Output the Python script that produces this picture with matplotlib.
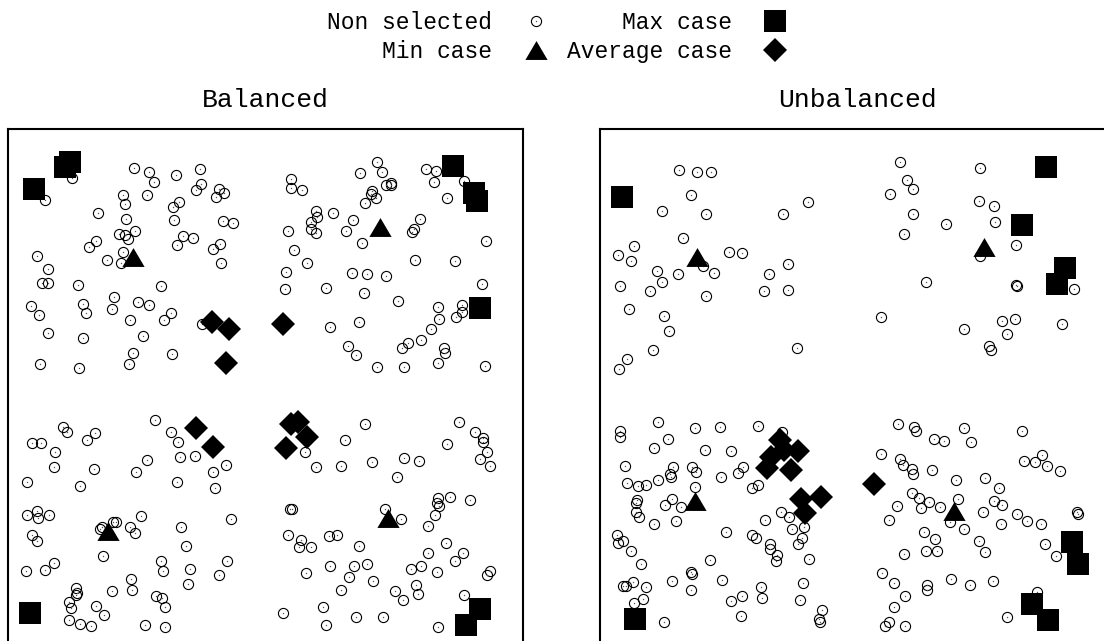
import matplotlib
matplotlib.use("Agg")
import matplotlib.pyplot as plt
import numpy as np

plt.rcParams['font.family'] = ['Liberation Mono', 'DejaVu Sans Mono']

# field is a square of side FIELD, x to the right, y upwards
FIELD = 515

# -> Balanced scenario
bal_other = [
    (64, 466), (37, 444), (126, 476), (141, 472), (146, 462), (168, 469), (192, 475), (193, 460),
    (188, 454), (211, 455), (216, 451), (208, 447), (115, 449), (117, 440), (139, 449), (171, 442),
    (165, 437), (90, 431), (118, 425), (166, 424), (215, 423), (225, 421), (127, 413), (111, 410),
    (117, 409), (120, 405), (88, 403), (81, 397), (175, 408), (185, 406), (169, 399), (212, 400),
    (205, 395), (115, 392), (99, 384), (113, 381), (213, 381), (29, 388), (40, 375), (34, 361),
    (40, 361), (70, 359), (153, 358), (23, 338), (31, 329), (75, 340), (78, 331), (106, 347),
    (104, 335), (130, 342), (141, 339), (122, 324), (163, 331), (156, 324), (194, 320), (40, 311),
    (75, 306), (135, 308), (125, 291), (121, 280), (164, 290), (32, 280), (71, 276),
    (369, 482), (352, 471), (374, 472), (283, 465), (283, 456), (294, 454), (378, 459), (383, 461),
    (383, 459), (364, 453), (363, 450), (368, 446), (357, 441), (418, 475), (428, 473), (426, 462),
    (456, 463), (439, 446), (308, 433), (309, 427), (303, 422), (303, 415), (308, 411), (325, 431),
    (345, 424), (338, 413), (280, 413), (354, 401), (412, 425), (406, 415), (404, 412), (478, 403),
    (286, 394), (299, 381), (407, 384), (447, 383), (278, 372), (277, 355), (318, 356), (344, 371),
    (359, 370), (378, 368), (356, 351), (390, 343), (474, 360), (430, 337), (431, 325), (454, 339),
    (454, 332), (448, 327), (423, 315), (413, 304), (400, 301), (394, 296), (322, 317), (351, 322),
    (340, 298), (348, 289), (436, 296), (437, 291), (430, 281), (369, 277), (396, 277), (477, 278),
    (55, 217), (59, 212), (24, 201), (33, 201), (47, 192), (46, 177), (79, 204), (87, 211),
    (86, 175), (19, 162), (72, 158), (147, 224), (163, 212), (170, 202), (172, 187), (187, 188),
    (139, 184), (128, 172), (169, 162), (218, 179), (205, 172), (207, 156), (19, 129), (29, 133),
    (30, 126), (41, 129), (24, 109), (29, 103), (92, 115), (94, 117), (105, 122), (108, 122),
    (122, 117), (127, 111), (133, 128), (173, 117), (223, 125), (178, 98), (95, 88), (18, 73),
    (37, 74), (46, 81), (153, 83), (155, 73), (182, 75), (219, 83), (211, 69), (180, 60),
    (123, 65), (124, 54), (104, 53), (68, 56), (69, 51), (68, 49), (61, 42), (63, 36),
    (88, 38), (96, 29), (148, 48), (154, 46), (157, 37), (61, 24), (72, 20), (83, 18),
    (137, 19), (157, 17),
    (357, 220), (337, 204), (297, 192), (308, 177), (333, 178), (364, 182), (396, 186), (411, 183),
    (389, 167), (451, 222), (467, 212), (475, 206), (475, 202), (439, 200), (479, 192), (472, 185),
    (482, 178), (282, 135), (284, 135), (377, 135), (393, 125), (430, 146), (429, 141), (431, 138),
    (442, 147), (462, 144), (427, 129), (420, 118), (280, 109), (293, 104), (291, 97), (303, 97),
    (321, 108), (329, 109), (351, 98), (438, 101), (420, 91), (455, 91), (447, 83), (298, 71),
    (322, 78), (346, 78), (359, 80), (341, 67), (365, 63), (333, 54), (403, 75), (413, 78),
    (429, 72), (482, 73), (479, 69), (408, 59), (410, 50), (387, 53), (395, 44), (456, 49),
    (315, 37), (275, 31), (318, 19), (348, 27), (375, 27), (430, 17),
]
bal_max = [(62, 482), (57, 477), (26, 455), (445, 478), (466, 451), (469, 443),
           (472, 336), (22, 31), (472, 35), (458, 19)]
bal_min = [(125, 387), (372, 417), (100, 113), (380, 126)]
bal_avg = [(204, 322), (221, 315), (218, 281), (275, 320), (188, 216), (205, 197),
           (290, 222), (283, 220), (299, 207), (278, 196)]

# -> Unbalanced scenario
unb_other = [
    (79, 474), (97, 472), (111, 472), (91, 449), (62, 433), (106, 430), (183, 430), (208, 442),
    (83, 406), (34, 398), (18, 389), (31, 383), (129, 392), (142, 391), (103, 378), (114, 371),
    (78, 370), (57, 373), (62, 362), (50, 353), (20, 358), (188, 380), (169, 370), (164, 353),
    (188, 354), (106, 348), (29, 335), (64, 328), (69, 313), (53, 294), (27, 285), (19, 275),
    (197, 296),
    (300, 482), (307, 464), (313, 455), (290, 450), (380, 476), (379, 443), (394, 438), (395, 422),
    (313, 430), (346, 420), (304, 410), (416, 399), (380, 388), (326, 362), (416, 359), (417, 358),
    (474, 355), (281, 327), (364, 315), (402, 323), (415, 325), (407, 310), (462, 320), (389, 298),
    (391, 294),
    (20, 213), (20, 207), (58, 222), (68, 205), (54, 196), (95, 216), (120, 217), (158, 218),
    (182, 212), (105, 194), (131, 193), (25, 178), (73, 177), (70, 170), (71, 167), (92, 177),
    (96, 172), (121, 167), (138, 171), (143, 177), (27, 161), (38, 158), (46, 159), (58, 164),
    (95, 157), (152, 156), (158, 159), (37, 144), (36, 141), (72, 145), (65, 139), (81, 137),
    (36, 132), (39, 127), (54, 120), (76, 123), (165, 124), (181, 132), (189, 127), (192, 115),
    (204, 117), (202, 106), (198, 100), (126, 112), (152, 109), (156, 106), (170, 100), (170, 95),
    (177, 89), (176, 83), (209, 85), (17, 109), (18, 101), (23, 103), (31, 93), (41, 80),
    (110, 84), (91, 72), (92, 70), (91, 54), (72, 63), (122, 64), (23, 58), (26, 58),
    (33, 62), (46, 57), (43, 45), (34, 41), (161, 57), (162, 46), (142, 48), (131, 43),
    (141, 28), (203, 61), (200, 44), (222, 34), (219, 25), (220, 22), (64, 22),
    (298, 220), (314, 217), (316, 213), (334, 205), (344, 203), (364, 216), (371, 202), (422, 213),
    (281, 190), (300, 185), (303, 179), (312, 175), (313, 170), (332, 174), (356, 164), (385, 166),
    (399, 156), (424, 183), (435, 182), (442, 189), (447, 178), (460, 173), (312, 151), (319, 146),
    (329, 142), (321, 136), (340, 137), (358, 145), (394, 143), (402, 139), (383, 132), (297, 138),
    (289, 124), (350, 122), (364, 115), (401, 120), (417, 130), (427, 123), (441, 120), (477, 132),
    (478, 130), (324, 112), (335, 105), (326, 93), (337, 93), (379, 103), (385, 92), (304, 90),
    (445, 100), (456, 88), (282, 71), (294, 61), (305, 48), (327, 59), (327, 54), (351, 65),
    (370, 59), (393, 63), (437, 52), (294, 37), (289, 22), (285, 18), (305, 18), (407, 27),
]
unb_max = [(22, 447), (446, 477), (422, 419), (465, 376), (457, 360), (35, 25),
           (472, 102), (478, 80), (432, 40), (448, 24)]
unb_min = [(97, 387), (384, 397), (95, 143), (354, 133)]
unb_avg = [(180, 204), (184, 194), (198, 193), (171, 187), (167, 176), (191, 174),
           (201, 145), (221, 147), (205, 131), (274, 160)]

panels = [
    ('Balanced', bal_other, bal_max, bal_min, bal_avg),
    ('Unbalanced', unb_other, unb_max, unb_min, unb_avg),
]

W, H = 1104, 641
fig = plt.figure(figsize=(W / 100, H / 100), dpi=100)

# slightly flattened triangle, like the original
tri_marker = [(-1, -0.85), (1, -0.85), (0, 0.85)]

# the figure crops the right and bottom of the frames, as in the original
lefts = [8, 600]
handles = None
for left, (title, other, mx, mn, avg) in zip(lefts, panels):
    ax = fig.add_axes([left / W, -3 / H, FIELD / W, FIELD / H])
    other = np.array(other)
    mx = np.array(mx)
    mn = np.array(mn)
    avg = np.array(avg)

    ring, = ax.plot(other[:, 0], other[:, 1], ls='none', marker='o', ms=7.3,
                    mfc='none', mec='black', mew=0.8, zorder=2)
    dot, = ax.plot(other[:, 0], other[:, 1], ls='none', marker='o', ms=1.0,
                   mfc='#555555', mec='none', zorder=2)
    sq, = ax.plot(mx[:, 0], mx[:, 1], ls='none', marker='s', ms=15.3,
                  color='black', mew=0, zorder=3)
    tri, = ax.plot(mn[:, 0], mn[:, 1], ls='none', marker=tri_marker, ms=16,
                   color='black', mew=0, zorder=3)
    dia, = ax.plot(avg[:, 0], avg[:, 1], ls='none', marker='D', ms=12,
                   color='black', mew=0, zorder=3)

    ax.set_xlim(0, FIELD)
    ax.set_ylim(0, FIELD)
    ax.set_xticks([])
    ax.set_yticks([])
    for sp in ax.spines.values():
        sp.set_linewidth(1.5)
    ax.set_title(title, fontsize=19, pad=16)
    handles = [(ring, dot), tri, sq, dia]

labels = ['Non selected', 'Min case', 'Max case', 'Average case']
fig.legend(handles, labels, loc='center', bbox_to_anchor=(557 / W, 1 - 37 / H),
           ncol=2, markerfirst=False, frameon=False, fontsize=16.5,
           handlelength=1.0, handletextpad=1.4, columnspacing=0.85, labelspacing=0.3)

fig.savefig('out.png', dpi=100)
